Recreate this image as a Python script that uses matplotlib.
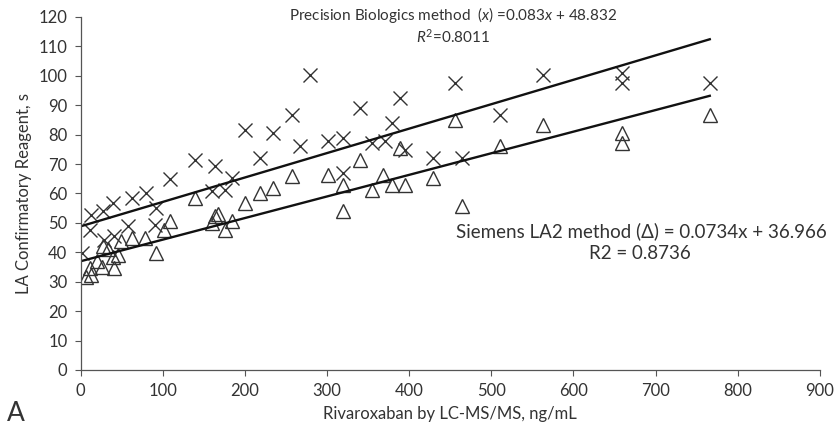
import matplotlib.pyplot as plt
import numpy as np

# Precision Biologics method (crosses)
prec_x = [1, 11, 13, 27, 39, 28, 40, 58, 62, 79, 91, 92, 109, 139, 159.5, 163.5,
          175.7, 183.8, 200, 218.3, 234.5, 256.8, 267, 279, 301.4, 319.7, 319.7,
          340, 354.2, 370.4, 378.6, 388.7, 394.8, 429, 455.6, 463.8, 510, 563,
          658.6, 658.6, 766]
prec_y = [39.7, 47.6, 52.7, 53.9, 56.7, 44.2, 45.4, 48.8, 58.4, 60.1, 49.3, 55,
          64.8, 71.4, 60.7, 69.2, 61.2, 65.2, 81.6, 72, 80.7, 86.7, 76, 100.3,
          77.8, 78.8, 66.9, 89, 77.1, 77.9, 83.9, 92.4, 74.8, 72, 97.5, 72, 86.7,
          100.3, 101, 97.5, 97.5]

# Siemens LA2 method (triangles)
sie_x = [6, 11, 13, 20, 26, 27, 33, 39, 41, 45, 49, 63, 78, 92, 102, 108.7, 139,
         159.5, 163.5, 167, 175.7, 183.8, 200, 218.3, 234.5, 256.8, 301.4, 319.7,
         319.7, 340, 354.2, 368, 378.6, 388.7, 394.8, 429, 455.6, 463.8, 510,
         563, 658.6, 658.6, 766]
sie_y = [31.7, 34.6, 32.3, 37, 35.1, 42, 41, 38.5, 34.6, 39, 43.7, 44.8, 44.8,
         39.7, 47.6, 50.5, 58.4, 49.9, 52.2, 53, 47.6, 50.5, 56.7, 60.1, 61.8,
         65.8, 66.3, 62.9, 53.9, 71.4, 61.2, 66.3, 62.9, 75.4, 62.9, 65.2, 85,
         55.6, 76, 83.3, 80.5, 77.1, 86.7]

prec_fit = (0.083, 48.832)
sie_fit = (0.0734, 36.966)
fit_range = [0, 766]

plt.rcParams['font.family'] = ['Lato', 'DejaVu Sans']
plt.rcParams['mathtext.fontset'] = 'custom'
plt.rcParams['mathtext.rm'] = 'Lato'
plt.rcParams['mathtext.it'] = 'Lato:italic'

ink = '#333333'
fig = plt.figure(figsize=(8.38, 4.34), dpi=100)
ax = fig.add_axes([0.0963, 0.1475, 0.882, 0.8135])

ax.plot(prec_x, prec_y, 'x', ms=10, mew=1.0, color=ink, linestyle='none')
ax.plot(sie_x, sie_y, '^', ms=10, mew=1.0, mfc='none', mec=ink, linestyle='none')

xs = np.array(fit_range)
ax.plot(xs, prec_fit[0] * xs + prec_fit[1], color='#111111', lw=1.7)
ax.plot(xs, sie_fit[0] * xs + sie_fit[1], color='#111111', lw=1.7)

ax.set_xlim(0, 900)
ax.set_ylim(0, 120)
ax.set_xticks(range(0, 901, 100))
ax.set_yticks(range(0, 121, 10))
for s in ['top', 'right']:
    ax.spines[s].set_visible(False)
for s in ['left', 'bottom']:
    ax.spines[s].set_color('#555555')
    ax.spines[s].set_linewidth(0.9)
ax.tick_params(length=4.5, width=0.8, color='#555555', labelsize=12,
               labelcolor=ink, pad=5)

ax.set_xlabel('Rivaroxaban by LC-MS/MS, ng/mL', fontsize=12, color=ink, labelpad=5)
ax.set_ylabel('LA Confirmatory Reagent, s', fontsize=12, color=ink, labelpad=5)

ax.text(453, 120.5, r'Precision Biologics method  ($x$) =0.083$x$ + 48.832',
        ha='center', va='center', fontsize=11, color=ink)
ax.text(453, 113.3, r'$R^2$=0.8011', ha='center', va='center', fontsize=11, color=ink)
ax.text(683, 47.3, 'Siemens LA2 method (\u0394) = 0.0734x + 36.966',
        ha='center', va='center', fontsize=13.5, color=ink)
ax.text(681, 39.5, 'R2 = 0.8736', ha='center', va='center', fontsize=13.5, color=ink)

fig.text(0.008, 0.03, 'A', fontsize=19, color=ink)

fig.savefig('out.png', dpi=100)
